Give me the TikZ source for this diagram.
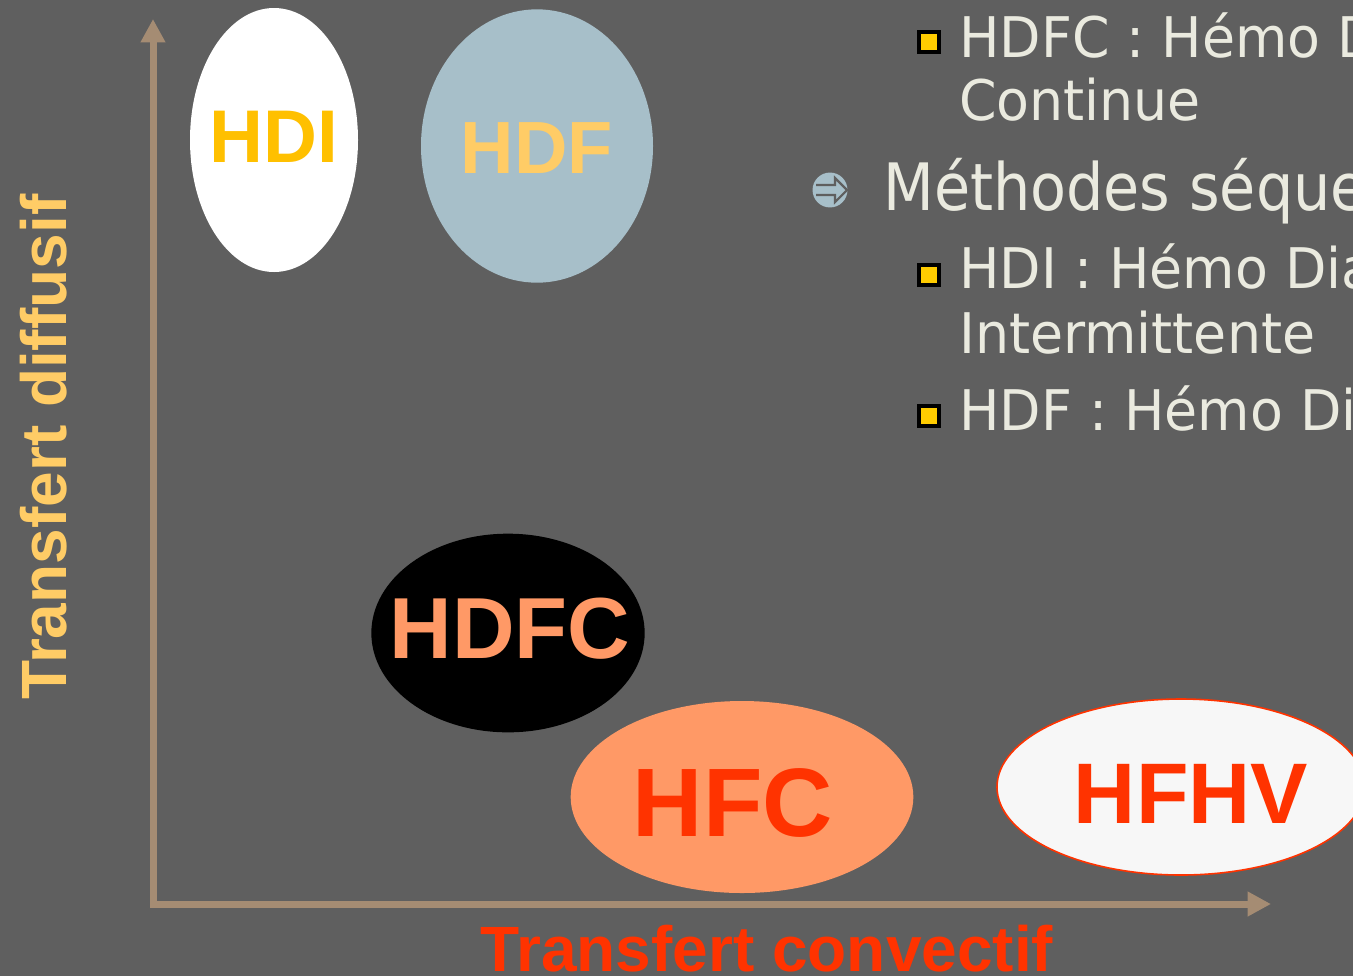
\documentclass[tikz,border=0pt]{standalone}
\usepackage{fontspec}
\setmainfont{Liberation Sans}
\newfontfamily\hand[FakeStretch=0.96]{DejaVu Sans}
\newfontfamily\handB[FakeStretch=0.9]{DejaVu Sans}
\usetikzlibrary{shapes.geometric,arrows.meta}
\definecolor{bg}{HTML}{5F5F5F}
\definecolor{axisc}{HTML}{A58C73}
\definecolor{gold}{HTML}{FFC000}
\definecolor{lorange}{HTML}{FFCC66}
\definecolor{salmon}{HTML}{FF9966}
\definecolor{redo}{HTML}{FF3300}
\definecolor{bluegrey}{HTML}{A7BFC9}
\definecolor{cream}{HTML}{EAEADF}
\definecolor{bulletyellow}{HTML}{FFCC00}
\tikzset{
  blob/.style={ellipse, inner sep=0pt, draw=none},
  lab/.style={font=\bfseries, inner sep=0pt},
  axisline/.style={draw=axisc, line width=5.25pt, -{Triangle[width=17.5pt,length=17.5pt]}},
  handtext/.style={anchor=base west, inner sep=0pt, text=cream, font=\hand},
  sqbullet/.style={draw=black, line width=2.6pt, fill=bulletyellow, minimum size=15pt, inner sep=0pt},
}
\begin{document}
\begin{tikzpicture}[x=0.75pt,y=-0.75pt]
\useasboundingbox (0,0) rectangle (1353,976);
\clip (0,0) rectangle (1353,976);
\fill[bg] (0,0) rectangle (1353,976);

% axes
\coordinate (o) at (153,907);
\coordinate (ytip) at (153,19);
\coordinate (xo) at (150,904);
\coordinate (xtip) at (1271,904);
\draw[axisline] (o) -- (ytip);
\draw[axisline] (xo) -- (xtip);

% ellipses
\node[blob, fill=white, minimum width=126pt, minimum height=198pt] (hdi) at (274,140) {};
\node[lab, text=gold, font=\fontsize{56}{56}\selectfont\bfseries] (thdi) at (274,137) {HDI};

\node[blob, fill=bluegrey, minimum width=174pt, minimum height=205pt] (hdf) at (537,146) {};
\node[lab, text=lorange, font=\fontsize{55.5}{56}\selectfont\bfseries] (thdf) at (537,148) {HDF};

\node[blob, fill=black, minimum width=205pt, minimum height=149pt] (hdfc) at (508,633) {};
\node[lab, text=salmon, font=\fontsize{65}{65}\selectfont\bfseries] (thdfc) at (510,629) {HDFC};

\node[blob, fill=salmon, minimum width=257pt, minimum height=144pt] (hfc) at (742,797) {};
\node[lab, text=redo, font=\fontsize{73}{73}\selectfont\bfseries] (thfc) at (733,803) {HFC};

\node[blob, fill=white!97!black, draw=redo, line width=1.2pt, minimum width=276pt, minimum height=132pt] (hfhv) at (1181,787) {};
\node[lab, text=redo, font=\fontsize{64.5}{65}\selectfont\bfseries] (thfhv) at (1191,794) {HFHV};

% axis labels
\node[lab, anchor=base, text=redo, font=\fontsize{48}{48}\selectfont\bfseries] (xlab) at (767,971) {Transfert convectif};
\node[lab, anchor=base, rotate=90, text=lorange, font=\fontsize{48}{48}\selectfont\bfseries] (ylab) at (66,447) {Transfert diffusif};

% right text
\node[sqbullet] (b1) at (929,42) {};
\node[handtext, font=\hand\fontsize{42}{42}\selectfont] (t1) at (959,57) {HDFC : Hémo Dia};
\node[handtext, font=\hand\fontsize{42}{42}\selectfont] (t1b) at (959,120) {Continue};

\fill[bluegrey] (830,190) circle [radius=13.1pt];
\draw[bg, line width=1.6pt, line join=miter] (816,185) -- (835,185) -- (835,178) -- (847,190) -- (835,202) -- (835,195) -- (816,195);
\node[handtext, font=\handB\fontsize{49}{49}\selectfont] (t2) at (883,210) {Méthodes séquen};

\node[sqbullet] (b2) at (929,275) {};
\node[handtext, font=\hand\fontsize{42}{42}\selectfont] (t3) at (959,288) {HDI : Hémo Dia};
\node[handtext, font=\hand\fontsize{42}{42}\selectfont] (t3b) at (959,353) {Intermittente};

\node[sqbullet] (b3) at (929,416) {};
\node[handtext, font=\hand\fontsize{42}{42}\selectfont] (t4) at (959,430) {HDF : Hémo Dia};
\end{tikzpicture}
\end{document}
